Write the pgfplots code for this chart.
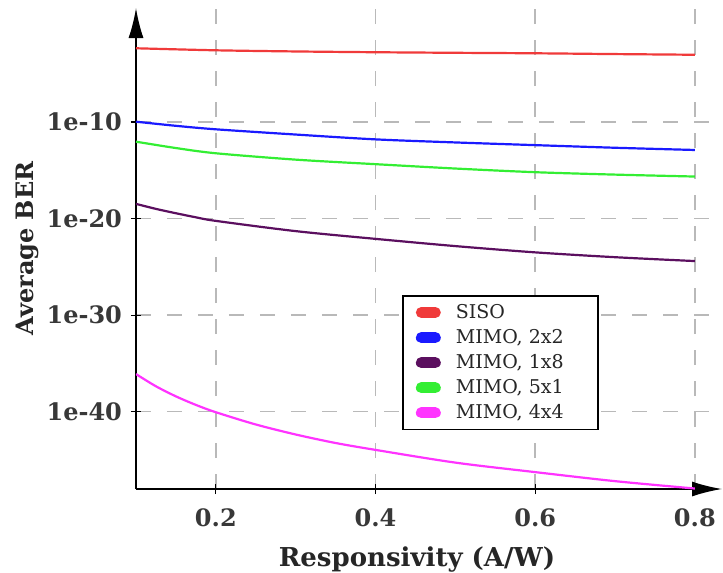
\documentclass[border=0pt]{standalone}
\usepackage{pgfplots}
\pgfplotsset{compat=1.18}
\usepackage{fontspec}
\setmainfont{DejaVu Serif}
\usetikzlibrary{arrows.meta}

\definecolor{cSISO}{HTML}{F03A3A}
\definecolor{cTwo}{HTML}{1A1AFF}
\definecolor{cOne}{HTML}{5B0F5F}
\definecolor{cFive}{HTML}{33EE33}
\definecolor{cFour}{HTML}{FF33FF}

\newcommand{\legtxt}[1]{\makebox[64.5pt][l]{#1}}

\begin{document}
\begin{tikzpicture}
\begin{axis}[
    scale only axis,
    width=293pt, height=240.5pt,
    ymode=log,
    xmin=0.1, xmax=0.834,
    ymin=1e-48, ymax=63,
    axis lines=left,
    axis line style={line width=0.8pt, -{Latex[length=15pt,width=7.5pt]}},
    xtick={0.2,0.4,0.6,0.8},
    xticklabels={0.2,0.4,0.6,0.8},
    ytick={1e-40,1e-30,1e-20,1e-10},
    yticklabels={1e-40,1e-30,1e-20,1e-10},
    minor ytick={},
    tick align=center,
    tick style={black, line width=0.6pt},
    major tick length=5pt,
    ticklabel style={font=\fontsize{12}{14}\selectfont\bfseries, text=black!78},
    xticklabel style={yshift=-4pt},
    yticklabel style={xshift=-1pt},
    xmajorgrids, ymajorgrids,
    grid style={gray!55, line width=0.7pt, dash pattern=on 7.5pt off 8pt},
    xlabel={Responsivity (A/W)},
    ylabel={Average BER},
    xlabel style={font=\fontsize{13}{15}\selectfont\bfseries, text=black!85,
        xshift=-6pt, yshift=-3pt},
    ylabel style={font=\fontsize{12}{14}\selectfont\bfseries, text=black!85,
        yshift=-3pt},
    legend cell align=left,
    legend style={at={(0.454,0.403)}, anchor=north west,
        draw=black, line width=0.8pt, fill=white, inner xsep=4.5pt,
        font=\fontsize{9.5}{11}\selectfont, text=black!85},
    legend image code/.code={
        \path[draw=none, fill=none] (0pt,0pt) -- (20pt,0pt);
        \draw[#1, line width=5.5pt, line cap=round] (4.75pt,0pt) -- (11.75pt,0pt);
    },
]
\addplot[cSISO, line width=1.1pt, smooth] coordinates {(0.1,4.27e-3)(0.2,2.63e-3)(0.3,2.0e-3)(0.4,1.66e-3)(0.5,1.45e-3)(0.6,1.29e-3)(0.7,1.07e-3)(0.8,9.1e-4)};
\addplot[cTwo, line width=1.1pt, smooth] coordinates {(0.1,1.07e-10)(0.15,4.0e-11)(0.2,1.74e-11)(0.3,5.0e-12)(0.4,1.58e-12)(0.5,7.6e-13)(0.6,4.0e-13)(0.7,2.14e-13)(0.8,1.26e-13)};
\addplot[cOne, line width=1.1pt, smooth] coordinates {(0.1,3.3e-19)(0.125,1.0e-19)(0.15,3.55e-20)(0.175,1.35e-20)(0.2,5.75e-21)(0.3,5.0e-22)(0.4,7.9e-23)(0.5,1.41e-23)(0.6,3.16e-24)(0.7,1.0e-24)(0.8,3.98e-25)};
\addplot[cFive, line width=1.1pt, smooth] coordinates {(0.1,9.1e-13)(0.15,2.0e-13)(0.2,5.75e-14)(0.3,1.26e-14)(0.4,4.27e-15)(0.5,1.51e-15)(0.6,6.3e-16)(0.7,3.55e-16)(0.8,2.24e-16)};
\addplot[cFour, line width=1.1pt, smooth] coordinates {(0.1,7.9e-37)(0.125,4.3e-38)(0.15,3.9e-39)(0.175,5.1e-40)(0.2,8.9e-41)(0.25,4.8e-42)(0.3,4.4e-43)(0.35,5.8e-44)(0.4,1.12e-44)(0.5,5.4e-46)(0.6,5.6e-47)(0.7,6.5e-48)(0.8,1.12e-48)};
\legend{\legtxt{SISO}, \legtxt{MIMO, 2x2}, \legtxt{MIMO, 1x8}, \legtxt{MIMO, 5x1}, \legtxt{MIMO, 4x4}}
\end{axis}
\pgfresetboundingbox
\path ([xshift=-68pt, yshift=-42pt]current axis.south west) rectangle ([xshift=0.5pt, yshift=4pt]current axis.north east);
\end{tikzpicture}
\end{document}
